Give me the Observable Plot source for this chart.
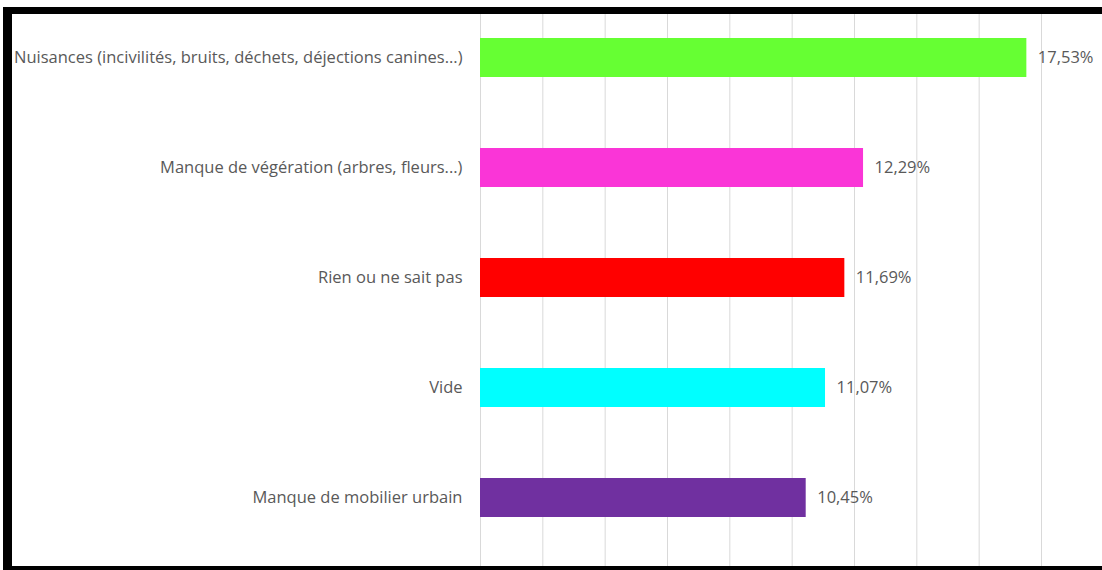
<!DOCTYPE html>
<html>
<head>
<meta charset="utf-8">
<script src="https://cdn.jsdelivr.net/npm/d3@7"></script>
<script src="https://cdn.jsdelivr.net/npm/@observablehq/plot@0.6"></script>
<style>
  html, body { margin: 0; padding: 0; background: #fff; }
  #frame {
    position: absolute; left: 3px; top: 7px;
    width: 1090px; height: 552px;
    border-left: 9px solid #000; border-top: 7px solid #000; border-bottom: 4px solid #000;
    border-right: 9px solid transparent;
  }
  #frame svg { display: block; }
</style>
</head>
<body>
<div id="frame"></div>
<script>
const categories = [
  "Nuisances (incivilités, bruits, déchets, déjections canines...)",
  "Manque de végération (arbres, fleurs...)",
  "Rien ou ne sait pas",
  "Vide",
  "Manque de mobilier urbain"
];
const values = [17.53, 12.29, 11.69, 11.07, 10.45];
const colors = ["#66FF33", "#FA35D7", "#FF0000", "#00FFFF", "#7030A0"];
const gridTicks = [0, 2, 4, 6, 8, 10, 12, 14, 16, 18];

const data = categories.map((c, i) => ({cat: c, value: values[i], color: colors[i]}));
const fmt = v => d3.format(".2f")(v).replace(".", ",") + "%";

const chart = Plot.plot({
  width: 1090,
  height: 552,
  marginLeft: 468,
  marginRight: 61,
  marginTop: 0,
  marginBottom: 0,
  style: {fontFamily: "'Open Sans', sans-serif", fontSize: "16.5px", color: "#595959", background: "#fff"},
  x: {domain: [0, 18], axis: null},
  y: {domain: categories, paddingInner: 0.645, paddingOuter: 0.328, align: 0.325, label: null},
  marks: [
    Plot.ruleX(gridTicks, {x: d => d, stroke: "#d9d9d9", strokeWidth: 1}),
    Plot.barX(data, {x: "value", y: "cat", fill: "color"}),
    Plot.text(data, {x: "value", y: "cat", text: d => fmt(d.value), textAnchor: "start", dx: 11, fill: "#595959", fontSize: 16.5}),
    Plot.axisY({tickSize: 0, tickPadding: 18, fontSize: 16.5, fill: "#595959", label: null})
  ]
});
document.getElementById("frame").appendChild(chart);
</script>
</body>
</html>
